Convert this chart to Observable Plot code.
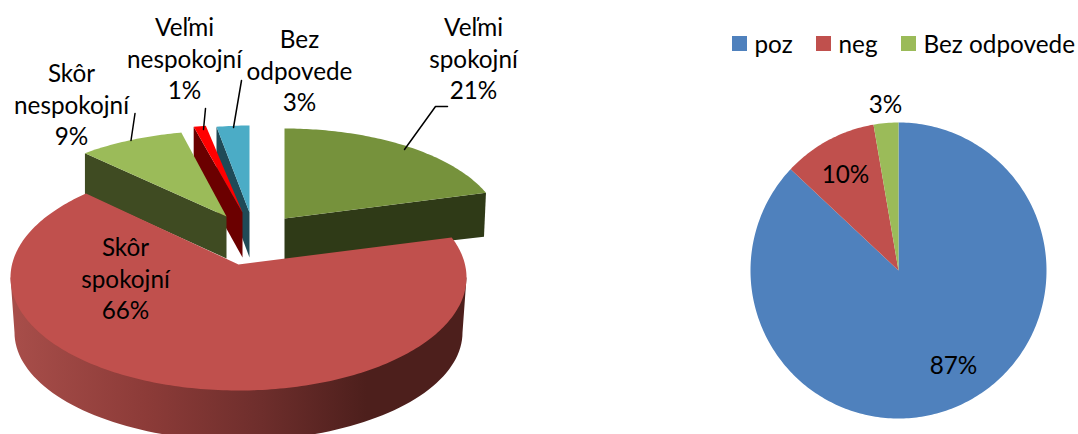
<!DOCTYPE html>
<html>
<head>
<meta charset="utf-8">
<style>html,body{margin:0;padding:0;background:#fff}svg{display:block}</style>
<script src="https://cdn.jsdelivr.net/npm/d3@7"></script>
<script src="https://cdn.jsdelivr.net/npm/@observablehq/plot@0.6"></script>
</head>
<body>
<div id="chart"></div>
<script>
// ---- data ----
const satisfactionLabels = ["Veľmi\nspokojní", "Skôr\nspokojní", "Skôr\nnespokojní", "Veľmi\nnespokojní", "Bez\nodpovede"];
const satisfactionValues = [21, 66, 9, 1, 3];
const summaryLabels = ["poz", "neg", "Bez odpovede"];
const summaryValues = [87, 10.3, 2.7];

// ---- presentation ----
const FONT = "Lato, Carlito, Calibri, sans-serif";
const FS = 24.3;
const RX = 228, RY = 113, K = 13 / 113;
const sliceStyle = [
  {top: "#76923c", wall: "#2f3a17", apex: [284, 218], sx: .95, sy: .9, xs: 1, wallAt: 1, wallH: [41, 44], wallDx: -2},
  {top: "#c0504d", apex: [238, 264], sx: 1, sy: 1, xs: 1},
  {top: "#9bbb59", wall: "#3f4b22", apex: [226, 216], sx: .93, sy: .86, xs: 1.04, wallAt: 0, wallH: [42, 41], wallDx: 0},
  {top: "#ff0000", wall: "#6b0000", apex: [242, 212], sx: .9, sy: .88, xs: 1.1, wallAt: 0, wallH: [45, 43], wallDx: 0},
  {top: "#4bacc6", wall: "#1f4a57", apex: [249, 212], sx: .88, sy: .87, xs: 1, wallAt: 0, wallH: [45, 43], wallDx: 0}
];
const drawOrder = [0, 4, 3, 2, 1];
const labelPos = [[473, 57], [125, 277], [71, 103], [184, 57], [299, 69]];
const leaders = [
  [[447, 106], [435, 106], [404, 149]],
  [[134.5, 113], [130.5, 140]],
  [[205, 108], [203, 129]],
  [[241, 80], [233, 127]]
];
const pie2 = {cx: 898, cy: 270, r: 148, colors: ["#4f81bd", "#c0504d", "#9bbb59"], labels: [[953, 363], [845, 172], [885, 102]]};
const legendSwatch = [[732, 754], [816, 838], [901, 923]];

// ---- geometry from the values ----
const rad = d => d * Math.PI / 180;
function rim(style, deg) {
  const th = rad(deg), s = Math.sin(th), c = Math.cos(th);
  const a = s / style.sx, b = c / style.sy, A = a * a + b * b;
  const t = (-b * K + Math.sqrt(b * b * K * K - A * (K * K - 1))) / A;
  return [style.apex[0] + t * s * RX * style.xs, style.apex[1] - t * c * RY];
}
const poly = (pts, fill) => Plot.line(pts, {x: d => d[0], y: d => d[1], fill, stroke: "none", curve: "linear"});
const total = d3.sum(satisfactionValues);
let cum = 0;
const spans = satisfactionValues.map(v => { const s = cum; cum += v; return [s / total * 360, cum / total * 360]; });

const sliceMarks = [];
for (const i of drawOrder) {
  const st = sliceStyle[i], [a0, a1] = spans[i];
  const arc = d3.range(a0, a1, 1).concat([a1]).map(d => rim(st, d));
  if (st.wall) {
    const c = arc[st.wallAt ? arc.length - 1 : 0];
    sliceMarks.push(poly([st.apex, c, [c[0] + st.wallDx, c[1] + st.wallH[1]], [st.apex[0], st.apex[1] + st.wallH[0]]], st.wall));
  } else {
    // outer rim of the big slice: a slightly smaller ellipse lower down
    const e = (cx, cy, rx, ry, d) => [cx + rx * Math.cos(rad(d)), cy + ry * Math.sin(rad(d))];
    const cx = st.apex[0], top = st.apex[1] + 13;
    const low = d3.range(180, -1, -2).map(d => e(cx, top + 55, RX - 4, 108, d));
    sliceMarks.push(poly([e(cx, top, RX, RY, 180), ...low, e(cx, top, RX, RY, 0)], "url(#rimGradient)"));
  }
  sliceMarks.push(poly([st.apex, ...arc], st.top));
}

cum = 0;
const pieMarks = summaryValues.map((v, i) => {
  const t0 = cum / d3.sum(summaryValues) * 360; cum += v;
  const t1 = cum / d3.sum(summaryValues) * 360;
  const pts = d3.range(t0, t1, 1).concat([t1]).map(d => [pie2.cx + pie2.r * Math.sin(rad(d)), pie2.cy - pie2.r * Math.cos(rad(d))]);
  return poly([[pie2.cx, pie2.cy], ...pts], pie2.colors[i]);
});

const gradient = () => {
  const ns = "http://www.w3.org/2000/svg";
  const defs = document.createElementNS(ns, "defs");
  const g = document.createElementNS(ns, "linearGradient");
  g.setAttribute("id", "rimGradient");
  [[0, "#a84e4a"], [.3, "#8c3b38"], [.55, "#6e2e2c"], [.78, "#4d1f1c"], [1, "#4d1f1c"]].forEach(([o, c]) => {
    const s = document.createElementNS(ns, "stop");
    s.setAttribute("offset", o); s.setAttribute("stop-color", c); g.appendChild(s);
  });
  defs.appendChild(g);
  return defs;
};

const textOpts = {fontSize: FS, fontFamily: FONT, fill: "#000", lineHeight: 1.3, textAnchor: "middle"};
const sliceLabels = satisfactionLabels.map((l, i) => ({text: `${l}\n${satisfactionValues[i]}%`, x: labelPos[i][0], y: labelPos[i][1]}));
const pieLabels = summaryValues.map((v, i) => ({text: `${Math.round(v)}%`, x: pie2.labels[i][0], y: pie2.labels[i][1]}));
const legendRows = summaryLabels.map((l, i) => ({l, color: pie2.colors[i], x0: legendSwatch[i][0], xt: legendSwatch[i][1]}));

const chart = Plot.plot({
  width: 1078, height: 434,
  marginTop: 0, marginRight: 0, marginBottom: 0, marginLeft: 0,
  x: {domain: [0, 1078], range: [0, 1078], axis: null},
  y: {domain: [0, 434], range: [0, 434], axis: null},
  style: {background: "#fff"},
  marks: [
    gradient,
    ...sliceMarks,
    ...leaders.map(pts => Plot.line(pts, {x: d => d[0], y: d => d[1], stroke: "#000", strokeWidth: 1.5, curve: "linear"})),
    Plot.text(sliceLabels, {x: "x", y: "y", text: "text", ...textOpts}),
    ...pieMarks,
    Plot.text(pieLabels, {x: "x", y: "y", text: "text", ...textOpts}),
    Plot.rect(legendRows, {x1: "x0", x2: d => d.x0 + 15, y1: () => 36, y2: () => 51, fill: "color"}),
    Plot.text(legendRows, {x: "xt", y: () => 42, text: "l", ...textOpts, textAnchor: "start"})
  ]
});
document.getElementById("chart").appendChild(chart);
</script>
</body>
</html>
